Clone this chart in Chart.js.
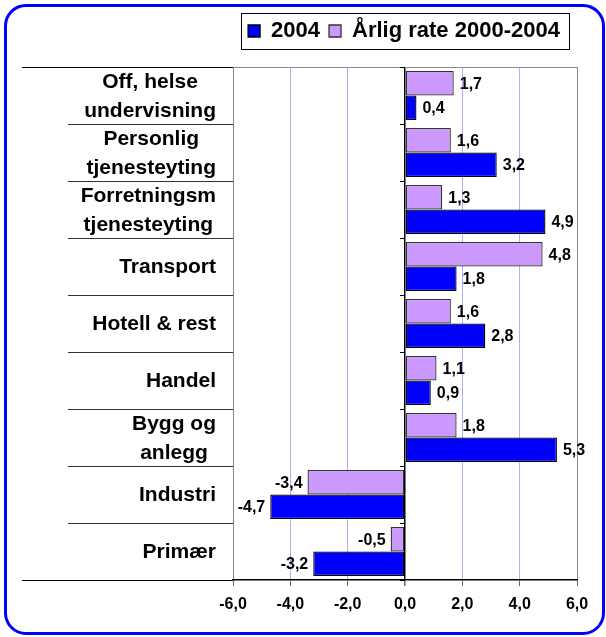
<!DOCTYPE html>
<html>
<head>
<meta charset="utf-8">
<script src="https://cdn.jsdelivr.net/npm/chart.js@4/dist/chart.umd.min.js"></script>
<style>
  body{margin:0;background:#fff;}
  #wrap{position:relative;width:606px;height:637px;}
  #frame{position:absolute;left:4px;top:4px;width:595px;height:625px;border:3px solid #0000ff;border-radius:22px;pointer-events:none;}
</style>
</head>
<body>
<div id="wrap">
  <canvas id="c" width="606" height="637"></canvas>
  <div id="frame"></div>
</div>
<script>
// data
const categories=[["Off, helse","undervisning"],["Personlig","tjenesteyting"],["Forretningsm","tjenesteyting"],["Transport"],["Hotell & rest"],["Handel"],["Bygg og","anlegg"],["Industri"],["Primær"]];
const rate0004=[1.7,1.6,1.3,4.8,1.6,1.1,1.8,-3.4,-0.5];
const val2004=[0.4,3.2,4.9,1.8,2.8,0.9,5.3,-4.7,-3.2];
const xTicks=[-6,-4,-2,0,2,4,6];

const FONT='"Liberation Sans", Arial, sans-serif';
const fmt=v=>v.toFixed(1).replace(".",",");

// legend box, category labels, data labels, extra axis lines
const extras={
  id:"extras",
  afterLayout(chart){
    const lg=chart.legend,a=chart.chartArea;
    lg.left=a.left-1;lg.right=a.right-1;lg.width=lg.right-lg.left;
    const dy=lg.top-11;
    lg.top-=dy;lg.bottom-=dy;
  },
  afterDatasetsDraw(chart){
    const ctx=chart.ctx;
    ctx.save();
    ctx.font="bold 16px "+FONT;
    ctx.fillStyle="#000";
    ctx.textBaseline="middle";
    chart.data.datasets.forEach((ds,di)=>{
      chart.getDatasetMeta(di).data.forEach((bar,i)=>{
        const v=ds.data[i];
        ctx.textAlign=v<0?"right":"left";
        ctx.fillText(fmt(v),v<0?bar.x-5:bar.x+6,bar.y+1);
      });
    });
    ctx.restore();
  },
  afterDraw(chart){
    const ctx=chart.ctx,a=chart.chartArea,ys=chart.scales.y,xs=chart.scales.x;
    ctx.save();
    // plot frame bits
    ctx.lineWidth=1;
    ctx.strokeStyle="#000";
    ctx.beginPath();
    ctx.moveTo(22,a.top+0.5);ctx.lineTo(a.left,a.top+0.5);
    ctx.moveTo(22,a.bottom+0.5);ctx.lineTo(a.left,a.bottom+0.5);
    ctx.stroke();
    ctx.strokeStyle="#888";
    ctx.beginPath();
    ctx.moveTo(a.left,a.top+0.5);ctx.lineTo(a.right,a.top+0.5);
    ctx.stroke();
    // small ticks on the zero axis
    const x0=Math.round(xs.getPixelForValue(0));
    ctx.strokeStyle="#000";
    ctx.beginPath();
    const n=categories.length,h=(a.bottom-a.top)/n;
    for(let k=0;k<=n;k++){
      const y=Math.round(a.top+k*h)+0.5;
      ctx.moveTo(x0-5,y);ctx.lineTo(x0,y);
    }
    ctx.stroke();
    // category labels: lines centred, block right aligned
    ctx.font="bold 21px "+FONT;
    ctx.fillStyle="#000";
    ctx.textAlign="center";
    ctx.textBaseline="middle";
    categories.forEach((lines,i)=>{
      const cy=ys.getPixelForValue(i);
      const bw=Math.max(...lines.map(l=>ctx.measureText(l).width));
      const cx=a.left-17-bw/2;
      lines.forEach((l,k)=>ctx.fillText(l,cx,cy+1+(k-(lines.length-1)/2)*29));
    });
    // legend border
    const hb=chart.legend.legendHitBoxes;
    if(hb&&hb.length){
      const l=Math.min(...hb.map(b=>b.left)),r=Math.max(...hb.map(b=>b.left+b.width));
      const t=Math.min(...hb.map(b=>b.top)),btm=Math.max(...hb.map(b=>b.top+b.height));
      ctx.strokeStyle="#000";ctx.lineWidth=1;
      ctx.strokeRect(Math.round(l-7)+0.5,Math.round(t-7)+0.5,Math.round(r-l+16),Math.round(btm-t+14));
    }
    ctx.restore();
  }
};

new Chart(document.getElementById("c"),{
  type:"bar",
  data:{
    labels:categories,
    datasets:[
      {label:"Årlig rate 2000-2004",data:rate0004,backgroundColor:"#cc99ff",borderColor:"#333",borderWidth:1.3,borderSkipped:false},
      {label:"2004",data:val2004,backgroundColor:"#0000ff",borderColor:"#000",borderWidth:1.3,borderSkipped:false}
    ]
  },
  options:{
    indexAxis:"y",
    responsive:false,
    animation:false,
    devicePixelRatio:1,
    datasets:{bar:{categoryPercentage:0.86,barPercentage:1}},
    layout:{padding:{left:0,right:29,top:26,bottom:0}},
    plugins:{
      legend:{
        position:"top",
        reverse:true,
        labels:{font:{family:FONT,size:22,weight:"bold"},color:"#000",boxWidth:12,boxHeight:12,padding:9}
      },
      tooltip:{enabled:false}
    },
    scales:{
      x:{
        min:-6,max:6,
        afterBuildTicks:s=>{s.ticks=xTicks.map(v=>({value:v}));},
        afterFit:s=>{s.height=57;},
        border:{display:true,color:"#000",width:1.5},
        grid:{
          color:c=>c.tick.value===0?"#000":Math.abs(c.tick.value)===6?"#888":"#aab0ff",
          lineWidth:c=>c.tick.value===0?1.5:1,
          tickColor:"#666",tickLength:6
        },
        ticks:{font:{family:FONT,size:16,weight:"bold"},color:"#000",padding:9,callback:v=>fmt(v)}
      },
      y:{
        afterFit:s=>{s.width=233;},
        border:{display:false},
        grid:{offset:true,drawOnChartArea:false,tickLength:165,color:"#333"},
        ticks:{display:false}
      }
    }
  },
  plugins:[extras]
});
</script>
</body>
</html>
